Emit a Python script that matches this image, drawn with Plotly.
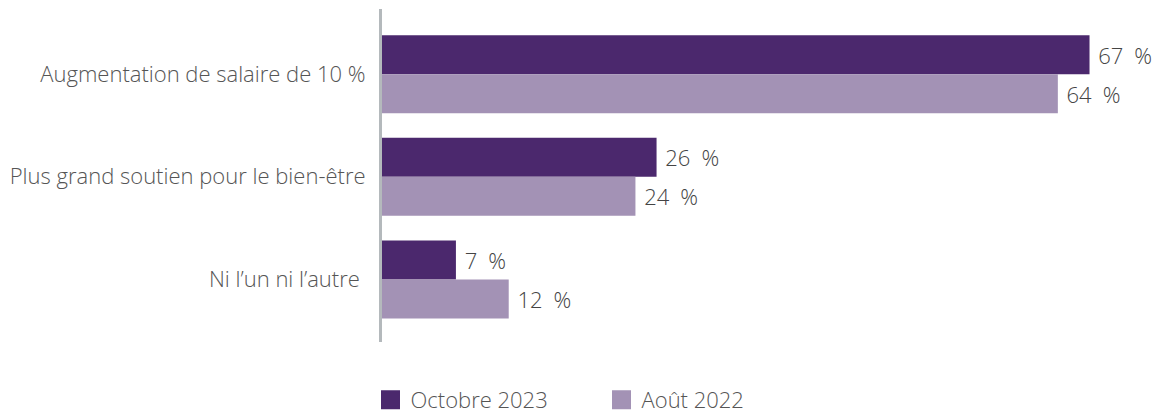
import plotly.graph_objects as go

categories = ["Augmentation de salaire de 10 %", "Plus grand soutien pour le bien-être", "Ni l’un ni l’autre "]
series_names = ["Octobre 2023", "Août 2022"]
oct_2023 = [67, 26, 7]
aout_2022 = [64, 24, 12]
colors = ["#4b286d", "#a392b5"]

FONT = "Open Sans, Roboto, Liberation Sans, sans-serif"

fig = go.Figure()
for name, vals, col in zip(series_names, [oct_2023, aout_2022], colors):
    fig.add_trace(go.Bar(
        y=categories, x=vals, orientation="h", name=name,
        marker=dict(color=col, line=dict(width=0)),
        text=[f"{v}\u2002%" for v in vals],
        texttemplate=" %{text}",
        textposition="outside", cliponaxis=False,
        textfont=dict(family=FONT, size=22, color="#444444", weight=300),
        showlegend=False,
    ))
    fig.add_trace(go.Scatter(
        x=[None], y=[None], mode="markers", name=name,
        marker=dict(symbol="square", size=18, color=col, line=dict(color=col, width=3)),
        showlegend=True,
    ))

fig.update_layout(
    width=1168, height=415,
    margin=dict(l=374, r=2, t=1, b=81),
    paper_bgcolor="white", plot_bgcolor="white",
    barmode="group", bargap=0.24, bargroupgap=0,
    font=dict(family=FONT, size=22, color="#555555", weight=300),
    xaxis=dict(range=[0, 75], showgrid=False, zeroline=False, showticklabels=False,
               showline=False, ticks=""),
    yaxis=dict(type="category", categoryorder="array", categoryarray=categories,
               range=[2.61, -0.635], showgrid=False, zeroline=False,
               showline=True, linecolor="#b4b9bc", linewidth=3,
               ticks="", ticklabelstandoff=9,
               tickfont=dict(family=FONT, size=22, color="#555555", weight=300)),
    legend=dict(orientation="h", x=-0.0145, xanchor="left", y=-0.174, yanchor="middle",
                itemsizing="trace", entrywidth=186, entrywidthmode="pixels",
                font=dict(family=FONT, size=22, color="#555555", weight=300), itemwidth=30),
)

fig.write_html("out.html")
